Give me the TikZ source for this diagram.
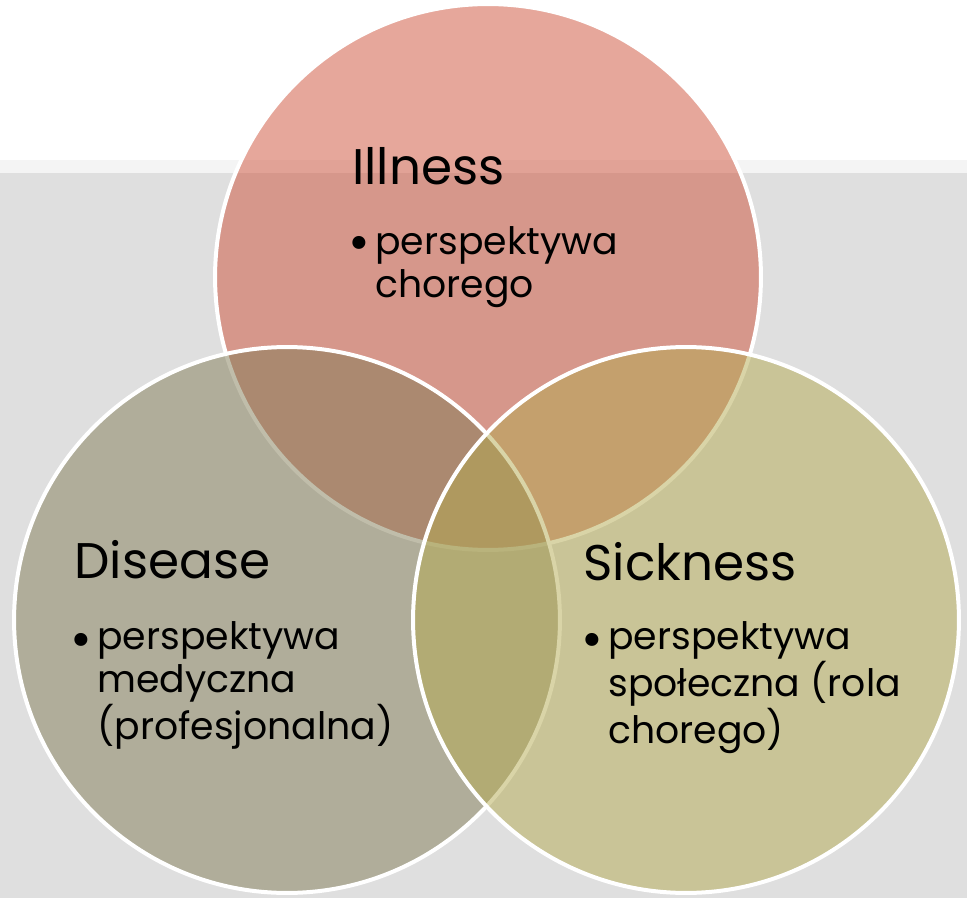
\documentclass[tikz,border=0pt]{standalone}
\usepackage{fontspec}
\setmainfont{Poppins}
\usepackage{tikz}
\usetikzlibrary{positioning}

\definecolor{illcol}{RGB}{207,81,57}
\definecolor{discol}{RGB}{130,124,86}
\definecolor{sickcol}{RGB}{180,170,80}
\definecolor{bandgray}{RGB}{223,223,223}
\definecolor{bandlight}{RGB}{244,244,244}

\begin{document}
\begin{tikzpicture}[
    x=0.02cm, y=-0.02cm,
    venn/.style={circle, draw=white, line width=0.08cm, fill opacity=0.5, minimum size=10.92cm, inner sep=0pt},
    vtitle/.style={anchor=base west, inner sep=0pt, font=\fontsize{28.5}{34}\selectfont},
    vbody/.style={anchor=north west, inner sep=0pt, align=left, font=\fontsize{21.5}{24.5}\selectfont},
    vbul/.style={anchor=base east, inner sep=0pt, font=\fontsize{30}{30}\selectfont}
]
    \useasboundingbox (0,0) rectangle (967,898);
    \fill[white] (0,0) rectangle (967,898);
    \fill[bandlight] (0,160) rectangle (967,173);
    \fill[bandgray] (0,173) rectangle (967,898);

    \node[venn, fill=illcol] (ill) at (488,277) {};
    \node[venn, fill=discol] (dis) at (287,620) {};
    \node[venn, fill=sickcol] (sick) at (686,620) {};

    \node[vtitle] (illT) at (352,185) {Illness};
    \node[vbody] (illB) at (375,226) {perspektywa\\chorego};
    \node[vbul] (illD) at (371,261) {\textbullet};

    \node[vtitle] (disT) at (74,578) {Disease};
    \node[vbody] (disB) at (97,621) {perspektywa\\medyczna\\(profesjonalna)};
    \node[vbul] (disD) at (93,657) {\textbullet};

    \node[vtitle] (sickT) at (583,580) {Sickness};
    \node[vbody] (sickB) at (608,621) {perspektywa\\społeczna (rola\\chorego)};
    \node[vbul] (sickD) at (604,657) {\textbullet};
\end{tikzpicture}
\end{document}
